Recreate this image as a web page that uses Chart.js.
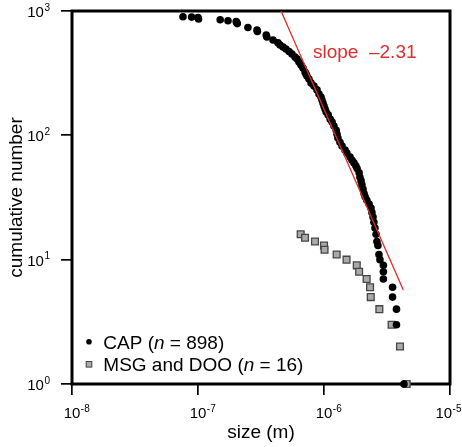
<!DOCTYPE html>
<html>
<head>
<meta charset="utf-8">
<script src="https://cdn.jsdelivr.net/npm/chart.js@4.4.1/dist/chart.umd.min.js"></script>
<style>
    html, body { margin: 0; padding: 0; background: #fff; }
    #wrap { width: 462px; height: 447px; }
</style>
</head>
<body>
<div id="wrap"><canvas id="sizeChart" width="462" height="447"></canvas></div>
<script>
// CAP particles: size (m) vs cumulative number
const capSize = [
    7.6e-8, 8.9e-8, 1.0e-7, 1.01e-7, 1.50e-7, 1.73e-7, 2.01e-7, 2.03e-7, 2.05e-7, 2.49e-7,
    2.94e-7, 2.96e-7, 3.48e-7, 3.52e-7, 3.94e-7, 4.31e-7, 4.48e-7, 4.73e-7, 4.99e-7, 5.28e-7,
    5.57e-7, 5.89e-7, 6.11e-7, 6.33e-7, 6.57e-7, 6.81e-7, 7.07e-7, 7.20e-7, 7.33e-7, 7.60e-7, 7.89e-7,
    8.33e-7, 8.80e-7, 9.13e-7, 9.47e-7, 9.64e-7, 9.82e-7, 1.00e-6, 1.02e-6, 1.04e-6, 1.08e-6,
    1.12e-6, 1.16e-6, 1.20e-6, 1.25e-6, 1.27e-6, 1.29e-6, 1.34e-6, 1.39e-6, 1.47e-6, 1.52e-6,
    1.61e-6, 1.67e-6, 1.73e-6, 1.79e-6, 1.83e-6, 1.90e-6, 1.93e-6, 1.97e-6, 2.00e-6, 2.04e-6,
    2.08e-6, 2.12e-6, 2.19e-6, 2.28e-6, 2.36e-6, 2.40e-6, 2.45e-6, 2.49e-6, 2.54e-6, 2.59e-6,
    2.63e-6, 2.68e-6, 2.73e-6, 2.78e-6, 2.96e-6, 2.96e-6, 2.96e-6, 3.50e-6, 3.50e-6, 3.76e-6,
    3.76e-6, 4.31e-6
];
const capCount = [
    898, 893, 884, 862, 850, 835, 822, 808, 792, 736,
    702, 684, 640, 618, 585, 555, 533, 513, 495, 472,
    451, 427, 411, 389, 368, 348, 323, 312, 300, 284, 264,
    249, 232, 215, 203, 192, 182, 172, 163, 154, 146,
    135, 128, 119, 110, 102, 95, 88, 82, 76, 72,
    67, 63, 60, 57, 54, 50, 46, 43, 40, 37,
    34, 32, 30, 28, 26, 24, 22, 20, 18, 16,
    14, 13, 11, 10, 9, 8, 7, 6, 5, 4,
    3, 1
];

// MSG and DOO particles
const msgSize = [
    6.53e-7, 7.07e-7, 8.48e-7, 1.00e-6, 1.01e-6, 1.26e-6, 1.51e-6, 1.82e-6,
    1.90e-6, 2.18e-6, 2.32e-6, 2.35e-6, 2.75e-6, 3.44e-6, 4.01e-6, 4.53e-6
];
const msgCount = [16, 15, 14, 13, 12, 11, 10, 9, 8, 7, 6, 5, 4, 3, 2, 1];

// fitted power law line (end points)
const slopeX = [4.56e-7, 4.26e-6];
const slopeY = [1000, 5.7];
const slopeText = 'slope  \u20132.31';

const xTicks = [1e-8, 1e-7, 1e-6, 1e-5];
const xTickExp = ['-8', '-7', '-6', '-5'];
const yTicks = [1, 10, 100, 1000];
const yTickExp = ['0', '1', '2', '3'];

const FONT = '"Liberation Sans", Arial, Helvetica, sans-serif';
const RED = '#dc2f2f';

function zip(xs, ys) {
    return xs.map((x, i) => ({ x: x, y: ys[i] }));
}

function drawPower(ctx, exp, x, y, align) {
    ctx.font = '15px ' + FONT;
    const wb = ctx.measureText('10').width;
    ctx.font = '10px ' + FONT;
    const we = ctx.measureText(exp).width;
    let x0 = align === 'right' ? x - wb - we - 0.5 : x - wb / 2;
    // keep the last label inside the canvas
    x0 = Math.min(x0, ctx.canvas.width - wb - we - 1);
    ctx.textAlign = 'left';
    ctx.textBaseline = 'alphabetic';
    ctx.font = '15px ' + FONT;
    ctx.fillText('10', x0, y);
    ctx.font = '10px ' + FONT;
    ctx.fillText(exp, x0 + wb + 0.5, y - 6.5);
}

// frame round the plot area, under the points
const framePlugin = {
    id: 'frame',
    beforeDatasetsDraw(chart) {
        const { ctx, chartArea: a } = chart;
        ctx.save();
        ctx.strokeStyle = '#000';
        ctx.lineWidth = 3;
        ctx.strokeRect(a.left, a.top, a.right - a.left, a.bottom - a.top);
        ctx.restore();
    }
};

// tick labels, axis titles, legend and slope label
const textPlugin = {
    id: 'texts',
    afterDraw(chart) {
        const ctx = chart.ctx;
        const xs = chart.scales.x;
        const ys = chart.scales.y;
        const a = chart.chartArea;
        ctx.save();
        ctx.fillStyle = '#000';

        xTicks.forEach((v, i) => drawPower(ctx, xTickExp[i], xs.getPixelForValue(v), 418, 'center'));
        yTicks.forEach((v, i) => drawPower(ctx, yTickExp[i], 50, ys.getPixelForValue(v) + 6, 'right'));

        ctx.font = '19px ' + FONT;
        ctx.textAlign = 'center';
        ctx.textBaseline = 'alphabetic';
        ctx.fillText('size (m)', (a.left + a.right) / 2, 438);

        ctx.save();
        ctx.translate(22, (a.top + a.bottom) / 2);
        ctx.rotate(-Math.PI / 2);
        ctx.fillText('cumulative number', 0, 0);
        ctx.restore();

        // slope label
        ctx.fillStyle = RED;
        ctx.textAlign = 'left';
        ctx.fillText(slopeText, 313, 58);

        // legend
        const rows = [
            { y: 348.5, parts: ['CAP (', 'n', ' = 898)'] },
            { y: 371, parts: ['MSG and DOO (', 'n', ' = 16)'] }
        ];
        ctx.fillStyle = '#000';
        ctx.beginPath();
        ctx.arc(89, 341.7, 2.8, 0, Math.PI * 2);
        ctx.fill();
        ctx.fillStyle = '#aaaaaa';
        ctx.strokeStyle = '#444';
        ctx.lineWidth = 1;
        ctx.fillRect(86.2, 361.5, 5.6, 5.6);
        ctx.strokeRect(86.2, 361.5, 5.6, 5.6);

        ctx.fillStyle = '#000';
        rows.forEach(row => {
            let x = 103.3;
            row.parts.forEach((p, i) => {
                ctx.font = (i === 1 ? 'italic ' : '') + '19px ' + FONT;
                ctx.fillText(p, x, row.y);
                x += ctx.measureText(p).width;
            });
        });
        ctx.restore();
    }
};

new Chart(document.getElementById('sizeChart'), {
    type: 'scatter',
    data: {
        datasets: [
            {
                label: 'slope',
                data: zip(slopeX, slopeY),
                showLine: true,
                borderColor: RED,
                borderWidth: 1.3,
                pointRadius: 0,
                order: 0
            },
            {
                label: 'CAP',
                data: zip(capSize, capCount),
                pointStyle: 'circle',
                pointRadius: 3.8,
                backgroundColor: '#000',
                borderWidth: 0,
                clip: false,
                order: 1
            },
            {
                label: 'MSG and DOO',
                data: zip(msgSize, msgCount),
                pointStyle: 'rect',
                pointRadius: 4.8,
                backgroundColor: '#aaaaaa',
                borderColor: '#454545',
                borderWidth: 1.3,
                clip: false,
                order: 2
            }
        ]
    },
    options: {
        responsive: false,
        devicePixelRatio: 1,
        animation: false,
        layout: { padding: { top: 11, right: 12, left: 0, bottom: 0 } },
        plugins: {
            legend: { display: false },
            tooltip: { enabled: false }
        },
        scales: {
            x: {
                type: 'logarithmic',
                min: 1e-8,
                max: 1e-5,
                afterBuildTicks: s => { s.ticks = xTicks.map(v => ({ value: v })); },
                afterFit: s => { s.height = 63; },
                ticks: { display: false },
                grid: { drawOnChartArea: false, drawTicks: true, tickLength: 11, color: '#000', lineWidth: 1.7 },
                border: { display: false }
            },
            y: {
                type: 'logarithmic',
                min: 1,
                max: 1000,
                afterBuildTicks: s => { s.ticks = yTicks.map(v => ({ value: v })); },
                afterFit: s => { s.width = 72; },
                ticks: { display: false },
                grid: { drawOnChartArea: false, drawTicks: true, tickLength: 11, color: '#000', lineWidth: 1.7 },
                border: { display: false }
            }
        }
    },
    plugins: [framePlugin, textPlugin]
});
</script>
</body>
</html>
